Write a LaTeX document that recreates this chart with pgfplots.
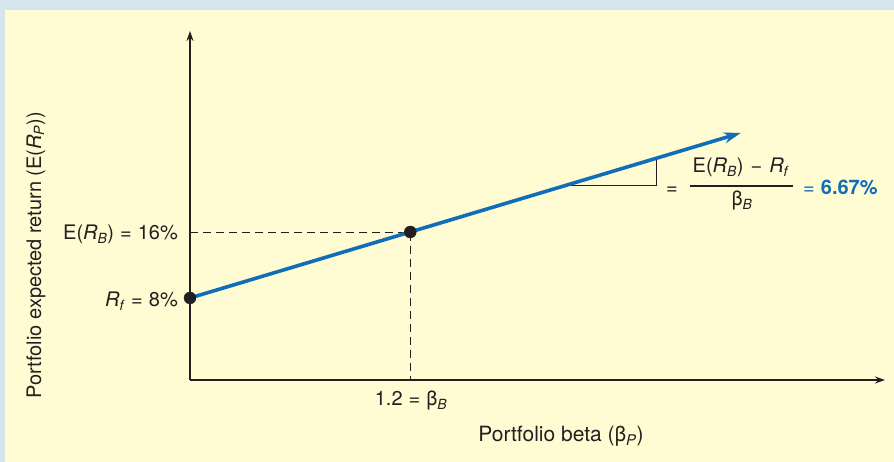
\documentclass[border=0pt]{standalone}
\usepackage{pgfplots}
\pgfplotsset{compat=1.18}
\usepackage{fontspec}
\setmainfont{TeX Gyre Heros}
\usetikzlibrary{arrows.meta}

\definecolor{cream}{RGB}{255,252,212}
\definecolor{frame}{RGB}{214,228,238}
\definecolor{ink}{RGB}{35,31,32}
\definecolor{sml}{RGB}{16,110,185}

\newcommand{\lab}{\fontsize{20}{23}\selectfont}
\newcommand{\Rs}[1]{\textit{R}\textsubscript{\textit{#1}}}
\newcommand{\eq}{\hspace{0.3em}=\hspace{0.3em}}

\begin{document}
\begin{tikzpicture}[x=1pt,y=1pt]
\useasboundingbox (0,0) rectangle (894,462);
\fill[frame] (0,0) rectangle (894,462);
\fill[cream] (5,0) rectangle (894,452);

\begin{axis}[
    at={(190pt,82pt)}, anchor=south west,
    scale only axis,
    width=695pt, height=349pt,
    xmin=0, xmax=3.786,
    ymin=-1.94, ymax=40.36,
    hide axis,
    clip=false,
]
% axes
\draw[ink, line width=1.6pt, -{Stealth[length=10pt,width=7pt]}]
    (axis cs:0,-1.94) -- (axis cs:3.786,-1.94);
\draw[ink, line width=1.6pt, -{Stealth[length=10pt,width=7pt]}]
    (axis cs:0,-1.94) -- (axis cs:0,40.36);

% guide lines to the benchmark point
\addplot[ink, line width=0.9pt, dash pattern=on 8pt off 5pt] coordinates {
    (0,16) (1.2,16) (1.2,-1.94)
};

% slope triangle
\addplot[ink, line width=0.9pt] coordinates {
    (2.05,21.67) (2.54,21.67) (2.54,24.93)
};

% security market line
\addplot[sml, line width=3.6pt, -{Stealth[length=17pt,width=11pt]}] coordinates {
    (0,8) (3,28)
};

\addplot[only marks, mark=*, mark size=6pt, ink] coordinates {
    (0,8) (1.2,16)
};
\end{axis}

\node[anchor=base east, ink, inner sep=0] at (178,222) {\lab E(\Rs{B})\eq{}16\%};
\node[anchor=base east, ink, inner sep=0] at (178,155) {\lab \Rs{f}\eq{}8\%};
\node[anchor=base, ink, inner sep=0] at (411,56) {\lab 1.2\eq{}β\textsubscript{\textit{B}}};
\node[anchor=base, ink, inner sep=0] at (561,20) {\fontsize{21}{24}\selectfont Portfolio beta (β\textsubscript{\textit{P}})};
\node[anchor=base, rotate=90, ink, inner sep=0] at (41,207)
    {\lab Portfolio expected return (E(\Rs{P}))};

\node[anchor=base, ink, inner sep=0] at (672,267) {\lab =};
\node[anchor=base, ink, inner sep=0] at (741,289) {\lab E(\Rs{B})\hspace{0.35em}−\hspace{0.35em}\Rs{f}};
\draw[ink, line width=1.6pt] (690,276) -- (793,276);
\node[anchor=base, ink, inner sep=0] at (742,256) {\lab β\textsubscript{\textit{B}}};
\node[anchor=base west, sml, inner sep=0] at (803,267) {\lab =\hspace{0.3em}\textbf{6.67\%}};
\end{tikzpicture}
\end{document}
